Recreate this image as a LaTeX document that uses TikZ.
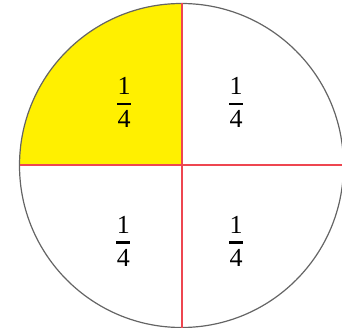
\documentclass[tikz,border=0pt]{standalone}
\usepackage{fontspec}
\setmainfont{Liberation Serif}
\definecolor{qyellow}{RGB}{255,240,0}
\definecolor{qred}{RGB}{238,70,80}
\definecolor{qrim}{RGB}{100,100,100}
\newcommand\qfrac{\vbox{\offinterlineskip\halign{\hfil##\hfil\cr 1\cr\noalign{\kern8pt}\rule{14pt}{2.5pt}\cr\noalign{\kern5.5pt}4\cr}}}
\begin{document}
\begin{tikzpicture}[x=1pt,y=-1pt,
  frac/.style={inner sep=0pt,font=\fontsize{26}{30}\selectfont},
  divider/.style={draw=qred,line width=2pt},
  rim/.style={draw=qrim,line width=1.2pt}]
\useasboundingbox (0,0) rectangle (342,328);
\coordinate (c) at (181.5,165.5);
\fill[qyellow] (c) -- (19.5,165.5) arc[start angle=180,end angle=90,radius=162pt] -- cycle;
\draw[rim] (c) circle[radius=162pt];
\coordinate (l) at (19.5,165.5);
\coordinate (r) at (342,165.5);
\coordinate (t) at (181.5,3.5);
\coordinate (b) at (181.5,328);
\draw[divider] (l) -- (r);
\draw[divider] (t) -- (b);
\node[frac] (q1) at (124,102.6) {\qfrac};
\node[frac] (q2) at (236,102.6) {\qfrac};
\node[frac] (q3) at (123.3,241) {\qfrac};
\node[frac] (q4) at (236,241) {\qfrac};
\end{tikzpicture}
\end{document}
